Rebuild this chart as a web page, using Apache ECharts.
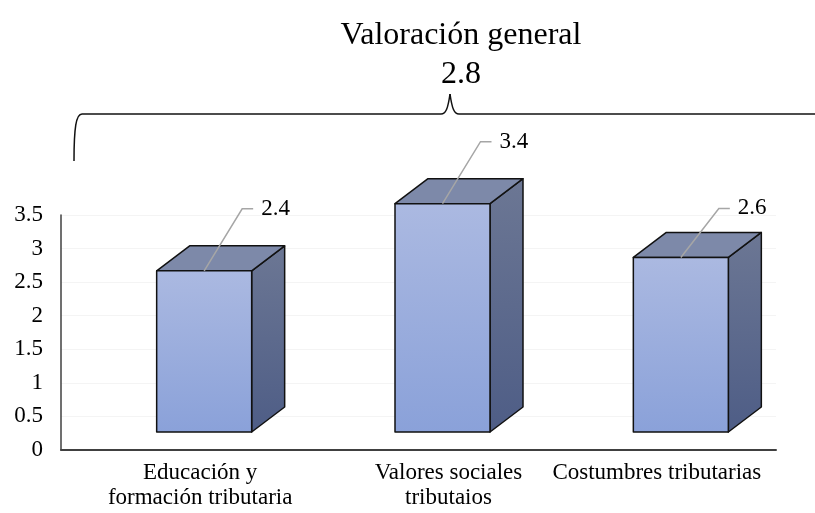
<!DOCTYPE html>
<html>
<head>
<meta charset="utf-8">
<script src="https://cdn.jsdelivr.net/npm/echarts@6/dist/echarts.min.js"></script>
<style>
  html, body { margin: 0; padding: 0; background: #fff; }
  #chart { width: 815px; height: 513px; }
</style>
</head>
<body>
<div id="chart"></div>
<script>
// datos del gráfico
const categorias = ['Educación y\nformación tributaria', 'Valores sociales\ntributaios', 'Costumbres tributarias'];
const valores = [2.4, 3.4, 2.6];
const etiquetas = ['2.4', '3.4', '2.6'];
const titulo = 'Valoración general\n2.8';

// estilo de las barras 3D
const FONT = "'Liberation Serif', 'Times New Roman', serif";
const BAR_W = 95;      // ancho de la cara frontal
const DEPTH_X = 33;    // profundidad hacia la derecha
const DEPTH_Y = 25;    // profundidad hacia arriba
const SHIFT_X = 24;    // desplazamiento del suelo 3D
const SHIFT_Y = 18;
const labelRise = [62, 62, 49];
const catShift = [20, 30, 0];   // desplazamiento horizontal de las etiquetas de categoría

const chart = echarts.init(document.getElementById('chart'));

const braceStyle = { stroke: '#111', lineWidth: 1.5, fill: null };

const option = {
  animation: false,
  title: {
    text: titulo,
    left: 456,
    top: 11,
    textAlign: 'center',
    textStyle: { fontFamily: FONT, fontSize: 32, fontWeight: 'normal', color: '#000', lineHeight: 39 }
  },
  grid: { left: 61, right: 39, top: 215, bottom: 63 },
  xAxis: {
    type: 'category',
    data: categorias,
    axisLine: { lineStyle: { color: '#404040', width: 2 } },
    axisTick: { show: false },
    axisLabel: { show: false }
  },
  yAxis: {
    type: 'value',
    min: 0,
    max: 3.5,
    interval: 0.5,
    axisLine: { show: true, lineStyle: { color: '#404040', width: 1.5 } },
    axisTick: { show: false },
    axisLabel: { fontFamily: FONT, fontSize: 23, color: '#000', margin: 18 },
    splitLine: { lineStyle: { color: '#f4f4f4' } }
  },
  series: [{
    type: 'custom',
    data: valores.map((v, i) => [i, v]),
    clip: false,
    renderItem(params, api) {
      const i = api.value(0);
      const v = api.value(1);
      const base = api.coord([i, 0]);
      const top = api.coord([i, v]);
      const cx = base[0] + SHIFT_X;
      const x0 = cx - BAR_W / 2, x1 = cx + BAR_W / 2;
      const yb = base[1] - SHIFT_Y, yt = top[1] - SHIFT_Y;
      const stroke = { stroke: '#111', lineWidth: 1.5, lineJoin: 'round' };
      const rise = labelRise[i];
      return {
        type: 'group',
        children: [
          {
            type: 'polygon',
            shape: { points: [[x1, yt], [x1 + DEPTH_X, yt - DEPTH_Y], [x1 + DEPTH_X, yb - DEPTH_Y], [x1, yb]] },
            style: Object.assign({
              fill: {
                type: 'linear', x: 0, y: 0, x2: 0, y2: 1,
                colorStops: [{ offset: 0, color: '#6c7794' }, { offset: 1, color: '#4e5d86' }]
              }
            }, stroke)
          },
          {
            type: 'polygon',
            shape: { points: [[x0, yt], [x1, yt], [x1 + DEPTH_X, yt - DEPTH_Y], [x0 + DEPTH_X, yt - DEPTH_Y]] },
            style: Object.assign({ fill: '#7d89a9' }, stroke)
          },
          {
            type: 'rect',
            shape: { x: x0, y: yt, width: BAR_W, height: yb - yt },
            style: Object.assign({
              fill: {
                type: 'linear', x: 0, y: 0, x2: 0, y2: 1,
                colorStops: [{ offset: 0, color: '#abb9e1' }, { offset: 1, color: '#8aa1d9' }]
              }
            }, stroke)
          },
          {
            type: 'polyline',
            shape: { points: [[cx, yt], [cx + 38, yt - rise], [cx + 49, yt - rise]] },
            style: { stroke: '#a6a6a6', lineWidth: 1.5, fill: null }
          },
          {
            type: 'text',
            x: cx + 57,
            y: yt - rise,
            style: { text: etiquetas[i], fontFamily: FONT, fontSize: 23, fill: '#000', verticalAlign: 'middle' }
          },
          {
            type: 'text',
            x: base[0] + catShift[i],
            y: base[1] + 10,
            style: {
              text: categorias[i], fontFamily: FONT, fontSize: 23, lineHeight: 25,
              fill: '#000', align: 'center', verticalAlign: 'top'
            }
          }
        ]
      };
    }
  }],
  graphic: [
    { type: 'bezierCurve', shape: { x1: 74, y1: 161, cpx1: 74, cpy1: 128, cpx2: 76, cpy2: 114, x2: 82, y2: 114 }, style: braceStyle },
    { type: 'line', shape: { x1: 82, y1: 114, x2: 441, y2: 114 }, style: braceStyle },
    { type: 'bezierCurve', shape: { x1: 441, y1: 114, cpx1: 446, cpy1: 114, cpx2: 448, cpy2: 108, x2: 450, y2: 94 }, style: braceStyle },
    { type: 'bezierCurve', shape: { x1: 450, y1: 94, cpx1: 452, cpy1: 108, cpx2: 454, cpy2: 114, x2: 459, y2: 114 }, style: braceStyle },
    { type: 'line', shape: { x1: 459, y1: 114, x2: 815, y2: 114 }, style: braceStyle }
  ]
};

chart.setOption(option);
window.addEventListener('resize', () => chart.resize());
</script>
</body>
</html>
